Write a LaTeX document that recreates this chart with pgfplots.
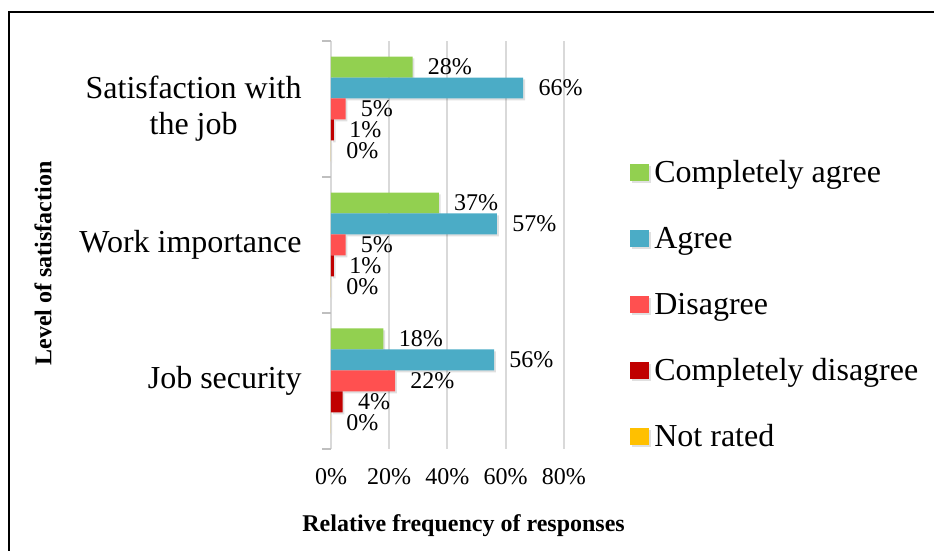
\documentclass[border=0pt]{standalone}
\usepackage{pgfplots}
\pgfplotsset{compat=1.18}
\usepackage{pgfplotstable}
\usepackage{fontspec}
\setmainfont{Liberation Serif}
\definecolor{cA}{HTML}{92D050}
\definecolor{cB}{HTML}{4BACC6}
\definecolor{cC}{HTML}{FF5050}
\definecolor{cD}{HTML}{C00000}
\definecolor{cE}{HTML}{FFC000}
\definecolor{gridc}{HTML}{D9D9D9}
\definecolor{axc}{HTML}{BFBFBF}
\pgfplotsset{sw/.style={legend image code/.code={\fill[#1] (0pt,-3pt) rectangle (9.5pt,5.5pt);}}}

\pgfplotstableread{
cat CA A D CD NR
0 18 56 22 4 0
1 37 57 5 1 0
2 28 66 5 1 0
}\datatable

\begin{document}
\begin{tikzpicture}[x=1pt,y=1pt]
\useasboundingbox (0,0) rectangle (467,275.5);
\draw[line width=1.2pt] (4.5,269.6) rectangle (480,-10);
\begin{axis}[
  at={(165.5pt,51pt)}, anchor=south west,
  scale only axis, width=116.5pt, height=204pt,
  xbar, bar width=0.1544,
  xmin=0, xmax=80, ymin=-0.5, ymax=2.5,
  axis line style={draw=none},
  xtick={0,20,40,60,80},
  xticklabel={\pgfmathprintnumber{\tick}\%},
  xmajorgrids, grid style={draw=gridc, line width=1pt},
  ytick={0,1,2},
  yticklabels={Job security, Work importance, {Satisfaction with\\the job}},
  minor ytick={-0.5,0.5,1.5,2.5},
  ytick pos=left, xtick pos=bottom,
  major tick length=0pt, minor tick length=4.5pt, tick align=outside,
  tick style={draw=axc, line width=1pt},
  /pgf/number format/assume math mode=true,
  xticklabel style={font=\fontsize{12}{14}\selectfont, inner sep=0pt, yshift=-9.5pt},
  yticklabel style={font=\fontsize{16}{18}\selectfont, align=center, inner sep=0pt, xshift=-14.5pt},
  xlabel={Relative frequency of responses},
  ylabel={Level of satisfaction},
  xlabel style={font=\bfseries\fontsize{12}{14}\selectfont, at={(axis description cs:0.569,-0.189)}, anchor=center},
  ylabel style={font=\bfseries\fontsize{12}{14}\selectfont, at={(axis description cs:-1.236,0.4547)}, anchor=center},
  point meta=x,
  nodes near coords={\pgfmathprintnumber{\pgfplotspointmeta}\%},
  every node near coord/.append style={font=\fontsize{12}{14}\selectfont, anchor=west, inner sep=0pt, xshift=7.5pt, text=black},
  legend style={draw=none, fill=none, at={(axis description cs:1.2833,0.348)}, anchor=west, inner sep=0pt, row sep=18.5pt, font=\fontsize{16}{18}\selectfont, nodes={inner xsep=2.5pt, inner ysep=0pt, text height=11pt, text depth=3.5pt}},
  legend cell align=left,
  every axis plot/.append style={draw=none, preaction={fill=black, fill opacity=0.12, transform canvas={xshift=0.9pt, yshift=-0.9pt}}},
]
\addplot[fill=cA, bar shift=0.3088, sw=cA] table[x=CA, y=cat] {\datatable};
\addplot[fill=cB, bar shift=0.1544, sw=cB] table[x=A, y=cat] {\datatable};
\addplot[fill=cC, bar shift=0, sw=cC] table[x=D, y=cat] {\datatable};
\addplot[fill=cD, bar shift=-0.1544, sw=cD] table[x=CD, y=cat] {\datatable};
\addplot[fill=cE, bar shift=-0.3088, sw=cE] table[x=NR, y=cat] {\datatable};
\legend{Completely agree, Agree, Disagree, Completely disagree, Not rated}
\end{axis}
\end{tikzpicture}
\end{document}
